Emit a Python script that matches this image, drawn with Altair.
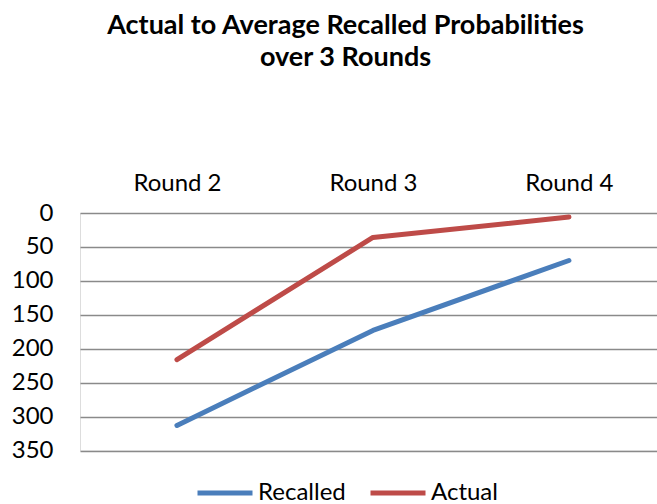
import altair as alt
import pandas as pd

rounds = ["Round 2", "Round 3", "Round 4"]
recalled = [313, 173, 70]
actual = [216, 36, 6]
series_names = ["Recalled", "Actual"]
series_colors = ["#4A7EBB", "#BE4B48"]
y_ticks = [0, 50, 100, 150, 200, 250, 300, 350]

rows = []
for r, v in zip(rounds, recalled):
    rows.append({"Round": r, "Value": v, "Series": "Recalled"})
for r, v in zip(rounds, actual):
    rows.append({"Round": r, "Value": v, "Series": "Actual"})
df = pd.DataFrame(rows)

FONT = "Lato"

chart = alt.Chart(df).mark_line(strokeWidth=5, strokeCap="round", strokeJoin="round").encode(
    x=alt.X("Round:N", sort=rounds,
            scale=alt.Scale(type="point", padding=0.472, align=0.524),
            axis=alt.Axis(orient="top", title=None, labelAngle=0, domain=False, ticks=False,
                          grid=False, labelFontSize=24, labelFont=FONT, labelColor="#000000",
                          labelPadding=18)),
    y=alt.Y("Value:Q",
            scale=alt.Scale(domain=[0, 350], reverse=True, nice=False, zero=True),
            axis=alt.Axis(title=None, values=y_ticks, domain=False, ticks=False, grid=True,
                          gridColor="#8A8A8A", gridWidth=1.5, labelFontSize=24, labelFont=FONT,
                          labelColor="#000000", labelPadding=27)),
    color=alt.Color("Series:N", sort=series_names,
                    scale=alt.Scale(domain=series_names, range=series_colors),
                    legend=alt.Legend(title=None, orient="none", legendX=115, legendY=250,
                                      direction="horizontal", symbolType="stroke",
                                      symbolSize=3025, symbolStrokeWidth=5,
                                      labelFontSize=24, labelFont=FONT, labelColor="#000000",
                                      labelOffset=3, columnPadding=14)),
).properties(
    width=577,
    height=237.5,
    title=alt.TitleParams(
        text=["Actual to Average Recalled Probabilities", "over 3 Rounds"],
        font=FONT, fontSize=27, fontWeight="bold", color="#000000",
        anchor="middle", dx=-23, offset=99, lineHeight=32,
    ),
    autosize=alt.AutoSizeParams(type="none"),
    padding={"left": 80, "top": 213, "right": 0, "bottom": 53},
).configure_view(stroke=None).configure(background="white")

chart.save("out.html", embed_options={"renderer": "svg", "actions": False})
